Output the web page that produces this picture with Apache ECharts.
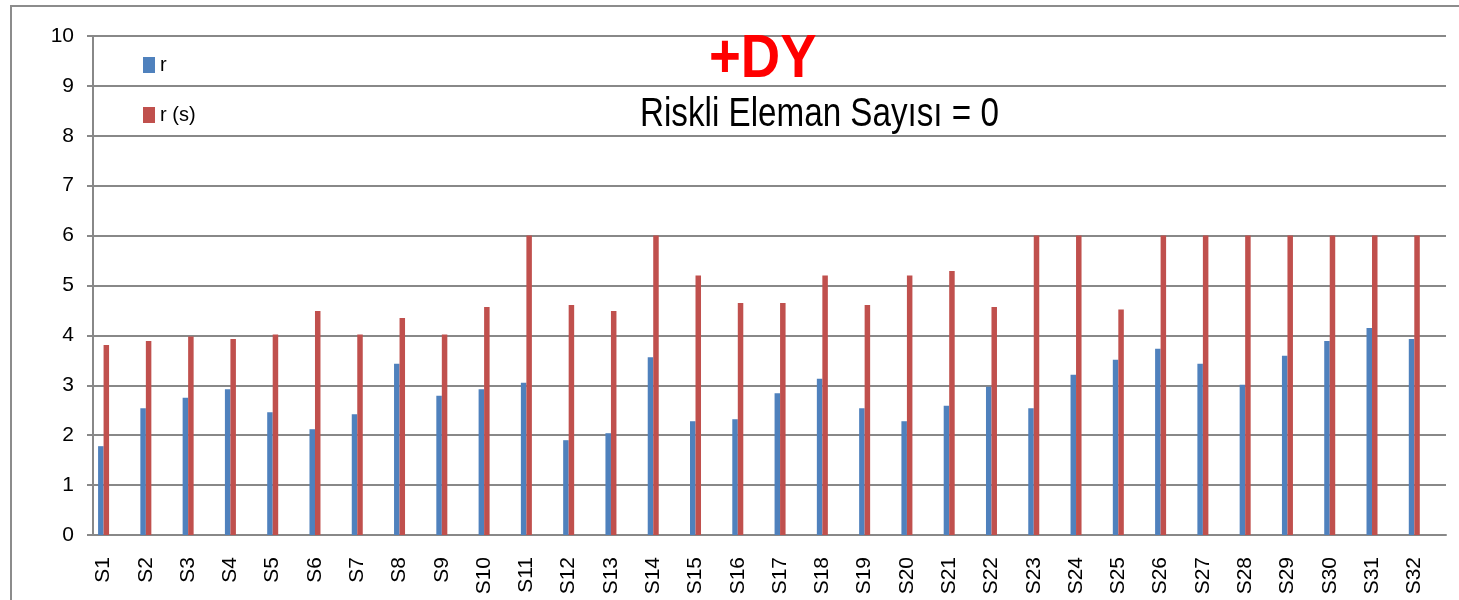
<!DOCTYPE html>
<html>
<head>
<meta charset="utf-8">
<title>+DY</title>
<script src="https://cdn.jsdelivr.net/npm/echarts@6/dist/echarts.min.js"></script>
<style>
  html, body { margin: 0; padding: 0; background: #fff; }
  #chart { width: 1459px; height: 600px; }
</style>
</head>
<body>
<div id="chart"></div>
<script>
// S1..S32 kesitleri
const sites = ["S1","S2","S3","S4","S5","S6","S7","S8","S9","S10","S11","S12","S13","S14","S15","S16",
  "S17","S18","S19","S20","S21","S22","S23","S24","S25","S26","S27","S28","S29","S30","S31","S32"];
const rValues = [1.78,2.54,2.75,2.92,2.46,2.12,2.42,3.43,2.79,2.92,3.05,1.90,2.04,3.56,2.28,2.32,
  2.84,3.13,2.54,2.28,2.59,2.97,2.54,3.21,3.51,3.73,3.43,3.01,3.59,3.89,4.15,3.93];
const rsValues = [3.81,3.89,3.98,3.93,4.02,4.49,4.02,4.35,4.02,4.57,6,4.61,4.49,6,5.20,4.65,
  4.65,5.20,4.61,5.20,5.29,4.57,6,6,4.52,6,6,6,6,6,6,6];
const yTicks = [0,1,2,3,4,5,6,7,8,9,10];

// excel grafiğinde her kesitten sonra boş bir kategori var
const categories = sites.flatMap((s, i) => [s, "_" + i]);
const rData = rValues.flatMap(v => [v, null]);
const rsData = rsValues.flatMap(v => [v, null]);

const FONT = "'Liberation Sans', Arial, sans-serif";
const GRID_COLOR = "#888888";

const chart = echarts.init(document.getElementById("chart"));
const option = {
  animation: false,
  backgroundColor: "#fff",
  graphic: [
    {
      type: "rect",
      shape: { x: 11, y: 6, width: 1470, height: 620 },
      style: { fill: "none", stroke: "#8c8c8c", lineWidth: 2 },
      silent: true
    },
    {
      // başlık (calibri yok, yatayda daraltıldı)
      type: "text",
      x: 709,
      y: 29,
      scaleX: 0.88,
      style: {
        text: "+DY",
        fill: "#ff0000",
        font: "bold 62px " + FONT,
        verticalAlign: "top"
      },
      z: 10
    },
    {
      type: "text",
      x: 640,
      y: 95,
      scaleX: 0.83,
      style: {
        text: "Riskli Eleman Sayısı = 0",
        fill: "#000",
        font: "40px " + FONT,
        verticalAlign: "top"
      },
      z: 10
    }
  ],
  legend: {
    orient: "vertical",
    left: 143,
    top: 55,
    padding: 0,
    itemWidth: 12,
    itemHeight: 16,
    itemGap: 30,
    icon: "rect",
    textStyle: { color: "#000", fontFamily: FONT, fontSize: 20 },
    data: ["r", "r (s)"]
  },
  grid: { left: 93, right: 13, top: 36, bottom: 65, containLabel: false },
  xAxis: {
    type: "category",
    data: categories,
    boundaryGap: true,
    axisLine: { lineStyle: { color: GRID_COLOR, width: 2 } },
    axisTick: { interval: 0, length: 6, lineStyle: { color: GRID_COLOR, width: 2 } },
    axisLabel: {
      interval: 1,
      rotate: 90,
      margin: 22,
      color: "#000",
      fontFamily: FONT,
      fontSize: 21
    }
  },
  yAxis: {
    type: "value",
    min: 0,
    max: 10,
    interval: 1,
    axisLine: { show: true, lineStyle: { color: GRID_COLOR, width: 2 } },
    axisTick: { show: true, length: 6, lineStyle: { color: GRID_COLOR, width: 2 } },
    splitLine: { lineStyle: { color: GRID_COLOR, width: 2 } },
    axisLabel: {
      margin: 19,
      color: "#000",
      fontFamily: FONT,
      fontSize: 21,
      formatter: v => (yTicks.includes(v) ? String(v) : "")
    }
  },
  series: [
    {
      name: "r",
      type: "bar",
      data: rData,
      barWidth: 5.5,
      barGap: "0%",
      itemStyle: { color: "#4f81bd" }
    },
    {
      name: "r (s)",
      type: "bar",
      data: rsData,
      barWidth: 5.5,
      itemStyle: { color: "#c0504d" }
    }
  ]
};
chart.setOption(option);
</script>
</body>
</html>
